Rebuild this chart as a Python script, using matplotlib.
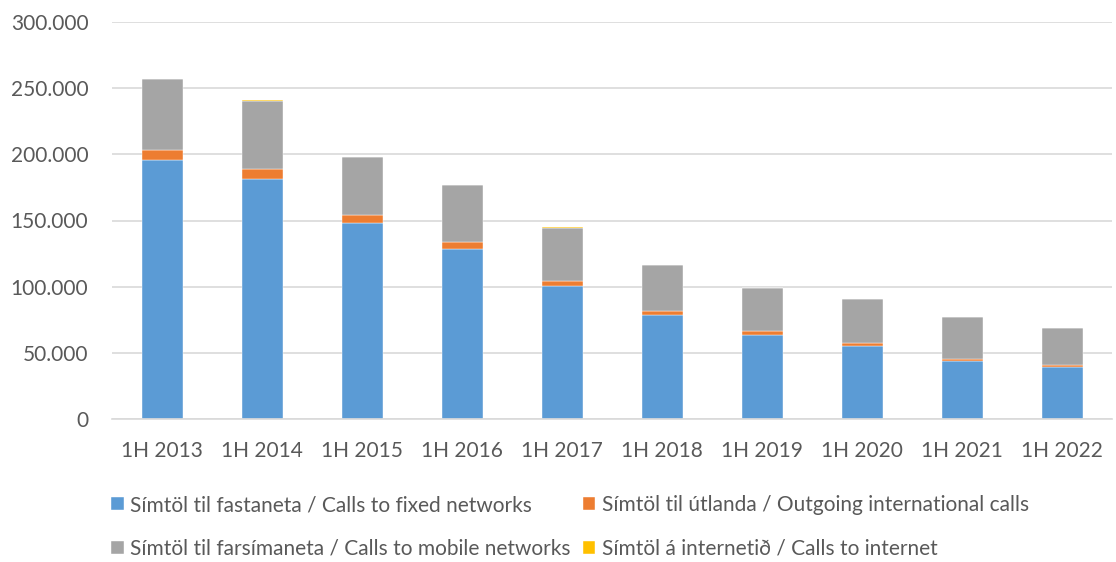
import numpy as np
import matplotlib.pyplot as plt
from matplotlib.ticker import FuncFormatter

# ── data ──
years = ["1H 2013", "1H 2014", "1H 2015", "1H 2016", "1H 2017",
         "1H 2018", "1H 2019", "1H 2020", "1H 2021", "1H 2022"]
fixed    = [195800, 181200, 148200, 128300, 100300, 78600, 63700, 55200, 43800, 39100]
intl     = [7600,   7600,   6000,   5300,   3800,   3000,  2800,  2000,  1800,  1500]
mobile   = [53200,  51700,  43800,  43100,  40500,  34500, 32800, 33300, 31500, 28200]
internet = [400,    500,    300,    500,    200,    100,   50,    50,    50,    50]

labels = ["Símtöl til fastaneta / Calls to fixed networks",
          "Símtöl til útlanda / Outgoing international calls",
          "Símtöl til farsímaneta / Calls to mobile networks",
          "Símtöl á internetið / Calls to internet"]
colors = ["#5B9BD5", "#ED7D31", "#A5A5A5", "#FFC000"]

plt.rcParams["font.family"] = ["Lato", "DejaVu Sans"]
TXT = "#595959"

fig = plt.figure(figsize=(11.16, 5.62), dpi=100)
ax = fig.add_axes([112 / 1116, 1 - 419 / 562, 1000 / 1116, 397 / 562])

x = np.arange(len(years))
w = 0.41
bottom = np.zeros(len(years))
handles = []
for vals, c, lbl in zip([fixed, intl, mobile, internet], colors, labels):
    h = ax.bar(x, vals, w, bottom=bottom, color=c, label=lbl,
               edgecolor="white", linewidth=0.3)
    handles.append(h)
    bottom += np.array(vals)

ax.set_xlim(-0.5, len(years) - 0.5)
ax.set_ylim(0, 300000)
ax.set_yticks(np.arange(0, 300001, 50000))
ax.yaxis.set_major_formatter(FuncFormatter(lambda v, p: f"{int(v):,}".replace(",", ".")))
ax.set_xticks(x)
ax.set_xticklabels(years)
ax.tick_params(axis="both", length=0, labelsize=15, colors=TXT)
ax.tick_params(axis="x", pad=16)
ax.tick_params(axis="y", pad=17)
ax.grid(axis="y", color="#D9D9D9", linewidth=1.2)
ax.set_axisbelow(True)
for s in ["top", "right", "left"]:
    ax.spines[s].set_visible(False)
ax.spines["bottom"].set_color("#D9D9D9")
ax.spines["bottom"].set_linewidth(1.2)

# legend: two rows, columns filled top-down
order = [0, 2, 1, 3]
leg = fig.legend([handles[i] for i in order], [labels[i] for i in order],
                 ncol=2, loc="upper left", bbox_to_anchor=(111 / 1116, 1 - 495 / 562),
                 frameon=False, fontsize=15, handlelength=0.6, handleheight=0.6,
                 handletextpad=0.3, columnspacing=0.6, labelspacing=1.15,
                 borderaxespad=0, borderpad=0)
for t in leg.get_texts():
    t.set_color(TXT)

plt.savefig("out.png", dpi=100)
